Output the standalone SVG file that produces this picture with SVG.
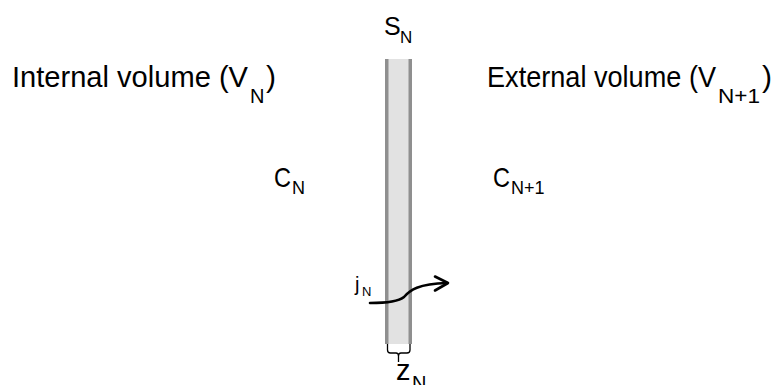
<svg xmlns="http://www.w3.org/2000/svg" width="773" height="385" viewBox="0 0 773 385">
<style>
text{font-family:"Liberation Sans","Noto Sans",Arial,sans-serif;fill:#000}
.big{font-size:30px}
.sub{font-size:20px}
.conn{fill:none;stroke:#000;stroke-width:2.6;stroke-linecap:round;stroke-linejoin:round}
</style>
<rect width="773" height="385" fill="#fff"/>
<g id="membrane">
<rect x="385" y="59" width="27" height="285" fill="#e2e2e2"/>
<rect x="385" y="59" width="3.5" height="285" fill="#8f8f8f"/>
<rect x="408.5" y="59" width="3.5" height="285" fill="#8f8f8f"/>
<path d="M387.5,344 V350 Q387.5,353 390.5,353 H396 Q398.5,353 398.5,356 V362 M398.5,356 Q398.5,353 401,353 H407 Q410,353 410,350 V344" fill="none" stroke="#000" stroke-width="1.3"/>
</g>
<g id="internal">
<text class="big" x="12" y="87" textLength="236" lengthAdjust="spacingAndGlyphs">Internal volume (V</text>
<text class="sub" x="250" y="103">N</text>
<text class="big" x="266" y="87">)</text>
</g>
<g id="external">
<text class="big" x="487" y="87" textLength="229" lengthAdjust="spacingAndGlyphs">External volume (V</text>
<text class="sub" x="718" y="103" textLength="42" lengthAdjust="spacingAndGlyphs">N+1</text>
<text class="big" x="762" y="87">)</text>
</g>
<g id="sn">
<text x="384" y="35" font-size="25">S</text>
<text x="400" y="43" font-size="17">N</text>
</g>
<g id="cn">
<text x="274" y="187" font-size="28" textLength="17" lengthAdjust="spacingAndGlyphs">C</text>
<text x="292" y="194" font-size="18">N</text>
</g>
<g id="cn1">
<text x="493" y="187" font-size="28" textLength="17" lengthAdjust="spacingAndGlyphs">C</text>
<text x="511" y="194" font-size="18">N+1</text>
</g>
<g id="jn">
<text x="355" y="291" font-size="20">j</text>
<text x="362" y="296" font-size="13">N</text>
</g>
<g id="zn">
<text x="396" y="380" font-size="29">z</text>
<text x="412" y="390" font-size="20">N</text>
</g>
<g id="connectors">
<path class="conn" d="M370,303 C386,303 398,302 404,297 C410,290 418,284 447,283"/>
<path class="conn" d="M435,276.5 L448,283 L435,290.5"/>
</g>
</svg>
